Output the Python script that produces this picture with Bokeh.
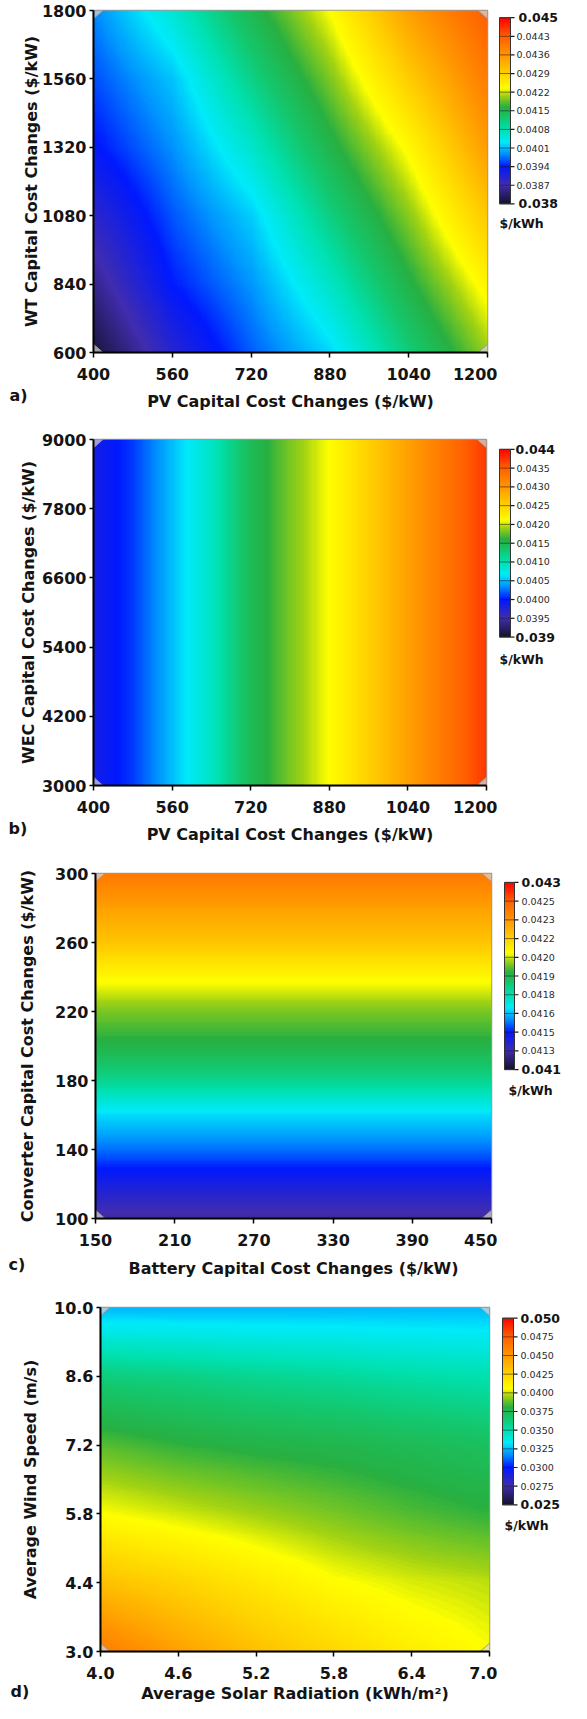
import numpy as np
from bokeh.plotting import figure
from bokeh.layouts import column, row
from bokeh.models import Range1d, FixedTicker, LinearColorMapper
from bokeh.core.properties import value
from bokeh.embed import file_html
from bokeh.resources import INLINE

# ---------------- data ----------------
# (a) COE vs PV (x) and WT (y) capital cost
a_pv = [400, 560, 720, 880, 1040, 1200]
a_wt = [600, 840, 1080, 1320, 1560, 1800]
a_coe = [
    [0.0381, 0.03899, 0.03967, 0.04022, 0.04114, 0.04202],   # WT 600
    [0.03852, 0.03941, 0.0399, 0.04065, 0.04157, 0.04246],   # WT 840
    [0.03894, 0.03964, 0.04017, 0.04109, 0.04197, 0.0430],   # WT 1080
    [0.03936, 0.03988, 0.04061, 0.04153, 0.0424, 0.04351],   # WT 1320
    [0.03961, 0.04012, 0.04105, 0.04193, 0.04294, 0.04391],  # WT 1560
    [0.03985, 0.04056, 0.04148, 0.04234, 0.04347, 0.0443],   # WT 1800
]
a_xticks = ["400", "560", "720", "880", "1040", "1200"]
a_yticks = ["600", "840", "1080", "1320", "1560", "1800"]
a_cbar = ["0.038", "0.0387", "0.0394", "0.0401", "0.0408", "0.0415",
          "0.0422", "0.0429", "0.0436", "0.0443", "0.045"]

# (b) COE vs PV (x) and WEC (y) capital cost -- varies along x only
b_pv = [400, 480, 560, 640, 720, 800, 880, 960, 1040, 1120, 1200]
b_wec = [3000, 9000]
b_coe = [0.03985, 0.0401, 0.0405, 0.0409, 0.04145, 0.0418, 0.0421,
         0.0425, 0.0429, 0.0433, 0.0437]
b_xticks = ["400", "560", "720", "880", "1040", "1200"]
b_yticks = ["3000", "4200", "5400", "6600", "7800", "9000"]
b_cbar = ["0.039", "0.0395", "0.0400", "0.0405", "0.0410", "0.0415",
          "0.0420", "0.0425", "0.0430", "0.0435", "0.044"]

# (c) COE vs Battery (x) and Converter (y) capital cost -- varies along y only
c_bat = [150, 450]
c_conv = [100, 120, 140, 160, 180, 200, 220, 240, 260, 280, 300]
c_coe = [0.04118, 0.04133, 0.0415, 0.04164, 0.04186, 0.04202, 0.04212,
         0.04226, 0.04244, 0.04256, 0.0427]
c_xticks = ["150", "210", "270", "330", "390", "450"]
c_yticks = ["100", "140", "180", "220", "260", "300"]
c_cbar = ["0.041", "0.0413", "0.0415", "0.0416", "0.0418", "0.0419",
          "0.0420", "0.0422", "0.0423", "0.0425", "0.043"]

# (d) COE vs solar radiation (x) and wind speed (y)
d_solar = [4.0, 4.6, 5.2, 5.8, 6.4, 7.0]
d_wind = [3.0, 4.4, 5.8, 7.2, 8.6, 10.0]
d_coe = [
    [0.0461, 0.0445, 0.0432, 0.0422, 0.0412, 0.0405],  # 3.0 m/s
    [0.0432, 0.0424, 0.0415, 0.0406, 0.0401, 0.0398],  # 4.4
    [0.0405, 0.0400, 0.0395, 0.0390, 0.0385, 0.0381],  # 5.8
    [0.0386, 0.0381, 0.0378, 0.0376, 0.0373, 0.0370],  # 7.2
    [0.0362, 0.0360, 0.0357, 0.0355, 0.0352, 0.0350],  # 8.6
    [0.0324, 0.0324, 0.0324, 0.0324, 0.0324, 0.0324],  # 10.0
]
d_xticks = ["4.0", "4.6", "5.2", "5.8", "6.4", "7.0"]
d_yticks = ["3.0", "4.4", "5.8", "7.2", "8.6", "10.0"]
d_cbar = ["0.025", "0.0275", "0.0300", "0.0325", "0.0350", "0.0375",
          "0.0400", "0.0425", "0.0450", "0.0475", "0.050"]

unit_label = "$/kWh"

# ---------------- styling helpers ----------------
FONT = "DejaVu Sans"
INK = "#141414"
PAGE_W = 571


def build_palette():
    st = [0.0, 0.10, 0.20, 0.27, 0.33, 0.40, 0.46, 0.52, 0.58, 0.62, 0.70, 0.80, 0.90, 1.0]
    sc = [(20, 20, 45), (65, 45, 175), (0, 25, 255), (0, 150, 255), (0, 235, 250),
          (0, 225, 175), (20, 200, 110), (40, 176, 66), (160, 210, 20), (255, 255, 0),
          (255, 210, 0), (255, 150, 0), (255, 95, 0), (255, 0, 0)]
    t = np.linspace(0, 1, 256)
    ch = [np.interp(t, st, [c[i] for c in sc]) for i in range(3)]
    return ["#%02x%02x%02x" % (int(r), int(g), int(b)) for r, g, b in zip(*ch)]


PALETTE = build_palette()


def surface(xs, ys, Z, nx=360, ny=360):
    """Raster of the read-off grid (bilinear resampling for display)."""
    Z = np.asarray(Z, dtype=float)
    xf = np.linspace(xs[0], xs[-1], nx)
    yf = np.linspace(ys[0], ys[-1], ny)
    tmp = np.array([np.interp(xf, xs, r) for r in Z])
    return np.array([np.interp(yf, ys, tmp[:, j]) for j in range(nx)]).T


def blank(width, height, xr, yr):
    f = figure(width=width, height=height, x_range=xr, y_range=yr, min_border=0,
               x_axis_location=None, y_axis_location=None,
               output_backend="svg", toolbar_location=None)
    f.outline_line_color = None
    f.xgrid.visible = False
    f.ygrid.visible = False
    f.background_fill_color = "white"
    f.border_fill_color = "white"
    return f


MAIN_W = 497
CB_W = PAGE_W - MAIN_W
CB_LEFT = 8 + MAIN_W


def panel(xs, ys, Z, xt, yt, xlab, ylab, cbar, tag, L):
    x0, x1 = float(xs[0]), float(xs[-1])
    y0, y1 = float(ys[0]), float(ys[-1])
    vmin, vmax = float(cbar[0]), float(cbar[-1])
    mapper = LinearColorMapper(palette=PALETTE, low=vmin, high=vmax)

    ftop, mbot, pbot = L["fig_top"], L["main_bottom"], L["panel_bottom"]
    fh = mbot - ftop
    fl, fr, ft, fb = L["frame"]
    p = figure(width=MAIN_W, height=fh,
               min_border_left=fl - 8, min_border_right=8 + MAIN_W - fr,
               min_border_top=ft - ftop, min_border_bottom=mbot - fb,
               x_range=Range1d(x0, x1), y_range=Range1d(y0, y1),
               output_backend="svg", toolbar_location=None)
    p.image(image=[surface(xs, ys, Z)], x=x0, y=y0, dw=x1 - x0, dh=y1 - y0,
            color_mapper=mapper)

    # design-point markers at the corners
    dx, dy = 0.024 * (x1 - x0), 0.024 * (y1 - y0)
    p.patches(xs=[[x0, x0 + dx, x0], [x1, x1 - dx, x1], [x0, x0 + dx, x0], [x1, x1 - dx, x1]],
              ys=[[y1, y1, y1 - dy], [y1, y1, y1 - dy], [y0, y0, y0 + dy], [y0, y0, y0 + dy]],
              fill_color="#d8d8d8", fill_alpha=0.7, line_color="#9a9a9a", line_width=1)

    xv = [float(s) for s in xt]
    yv = [float(s) for s in yt]
    p.xaxis.ticker = FixedTicker(ticks=xv)
    p.yaxis.ticker = FixedTicker(ticks=yv)
    p.xaxis.major_label_overrides = {v: s for v, s in zip(xv, xt)}
    p.yaxis.major_label_overrides = {v: s for v, s in zip(yv, yt)}
    p.yaxis.axis_label = ylab
    for ax in (p.xaxis[0], p.yaxis[0]):
        ax.axis_line_color = "black"
        ax.axis_line_width = 2
        ax.major_tick_line_color = "black"
        ax.major_tick_line_width = 1.5
        ax.major_tick_in = 0
        ax.minor_tick_line_color = None
        ax.major_label_text_font = FONT
        ax.major_label_text_font_style = "bold"
        ax.major_label_text_font_size = "16px"
        ax.major_label_text_color = INK
        ax.axis_label_text_font = FONT
        ax.axis_label_text_font_style = "bold"
        ax.axis_label_text_font_size = "16px"
        ax.axis_label_text_color = INK
    p.xaxis.major_tick_out = 5
    p.yaxis.major_tick_out = 4
    p.xaxis.major_label_standoff = L["xstand"]
    p.yaxis.major_label_standoff = 3
    p.yaxis.axis_label_standoff = L["ylstand"]
    p.xgrid.visible = False
    p.ygrid.visible = False
    p.outline_line_color = "#9a9a9a"
    p.outline_line_width = 1.5
    p.background_fill_color = "white"
    p.border_fill_color = "white"

    # ---- colour bar drawn in its own narrow figure ----
    bl, br, bt, bb = L["bar"]
    k = (vmax - vmin) / (bb - bt)
    cb = blank(CB_W, fh, Range1d(0, CB_W),
               Range1d(vmin - (mbot - bb) * k, vmax + (bt - ftop) * k))
    bx0, bx1 = bl - CB_LEFT, br - CB_LEFT
    cb.image(image=[np.linspace(vmin, vmax, 256).reshape(256, 1)], x=bx0, y=vmin,
             dw=bx1 - bx0, dh=vmax - vmin, color_mapper=mapper)
    tv = np.linspace(vmin, vmax, len(cbar))
    cb.segment(x0=[bx0] * len(tv), x1=[bx1] * len(tv), y0=tv, y1=tv,
               line_color="#1a1a1a", line_alpha=0.55, line_width=1)
    cb.segment(x0=[bx1] * len(tv), x1=[bx1 + 4] * len(tv), y0=tv, y1=tv,
               line_color="#1a1a1a", line_width=1.2)
    cb.quad(left=[bx0], right=[bx1], bottom=[vmin], top=[vmax], fill_color=None,
            line_color="#333333", line_width=1)
    cb.text(x=[L["lab_x"] - CB_LEFT] * (len(tv) - 2), y=tv[1:-1], text=cbar[1:-1],
            text_font=value("DejaVu Sans"), text_font_size="9.5px", text_color="#2a2a2a",
            text_align="left", text_baseline="middle")
    cb.text(x=[L["end_x"] - CB_LEFT] * 2, y=[vmin, vmax], text=[cbar[0], cbar[-1]],
            text_font=value(FONT), text_font_style="bold", text_font_size="12.5px",
            text_color=INK, text_align="left", text_baseline="middle")
    ux, uy = L["unit"]
    cb.text(x=[ux - CB_LEFT], y=[vmax - (uy - bt) * k], text=[unit_label],
            text_font=value(FONT), text_font_style="bold", text_font_size="12.5px",
            text_color=INK, text_align="left", text_baseline="middle")

    # ---- footer strip: x-axis title and panel tag (page pixel coordinates) ----
    foot = blank(PAGE_W, pbot - mbot, Range1d(8, 8 + PAGE_W), Range1d(pbot, mbot))
    foot.text(x=[(fl + fr) / 2], y=[L["xtitle_y"]], text=[xlab],
              text_font=value(FONT), text_font_style="bold", text_font_size="16px",
              text_color=INK, text_align="center", text_baseline="middle")
    foot.text(x=[L["tag"][0]], y=[L["tag"][1]], text=[tag],
              text_font=value(FONT), text_font_style="bold", text_font_size="16px",
              text_color=INK, text_align="left", text_baseline="middle")
    return column(row(p, cb), foot)


LAY_A = dict(fig_top=8, main_bottom=390, panel_bottom=436, frame=(101, 495, 18, 362),
             bar=(507, 518, 16, 224), lab_x=524, end_x=526, unit=(507, 246),
             tag=(17, 403), xtitle_y=409, xstand=10, ylstand=-2)
LAY_B = dict(fig_top=436, main_bottom=823, panel_bottom=869, frame=(101, 494, 447, 795),
             bar=(507, 518, 447, 657), lab_x=524, end_x=523, unit=(507, 682),
             tag=(16, 836), xtitle_y=842, xstand=10, ylstand=1)
LAY_C = dict(fig_top=869, main_bottom=1256, panel_bottom=1302, frame=(103, 499, 881, 1228),
             bar=(512, 522, 879, 1089), lab_x=529, end_x=529, unit=(516, 1112),
             tag=(16, 1272), xtitle_y=1276, xstand=10, ylstand=15)
LAY_D = dict(fig_top=1302, main_bottom=1689, panel_bottom=1711, frame=(108, 497, 1315, 1661),
             bar=(510, 521, 1314, 1524), lab_x=528, end_x=528, unit=(512, 1547),
             tag=(18, 1699), xtitle_y=1701, xstand=10, ylstand=11)

pa = panel(a_pv, a_wt, a_coe, a_xticks, a_yticks, "PV Capital Cost Changes ($/kW)",
           "WT Capital Cost Changes ($/kW)", a_cbar, "a)", LAY_A)
pb = panel(b_pv, b_wec, [b_coe, b_coe], b_xticks, b_yticks, "PV Capital Cost Changes ($/kW)",
           "WEC Capital Cost Changes ($/kW)", b_cbar, "b)", LAY_B)
pc = panel(c_bat, c_conv, [[v, v] for v in c_coe], c_xticks, c_yticks,
           "Battery Capital Cost Changes ($/kW)", "Converter Capital Cost Changes ($/kW)",
           c_cbar, "c)", LAY_C)
pd = panel(d_solar, d_wind, d_coe, d_xticks, d_yticks, "Average Solar Radiation (kWh/m\u00b2)",
           "Average Wind Speed (m/s)", d_cbar, "d)", LAY_D)

layout = column(pa, pb, pc, pd)
open("out.html", "w").write(file_html(layout, INLINE))
